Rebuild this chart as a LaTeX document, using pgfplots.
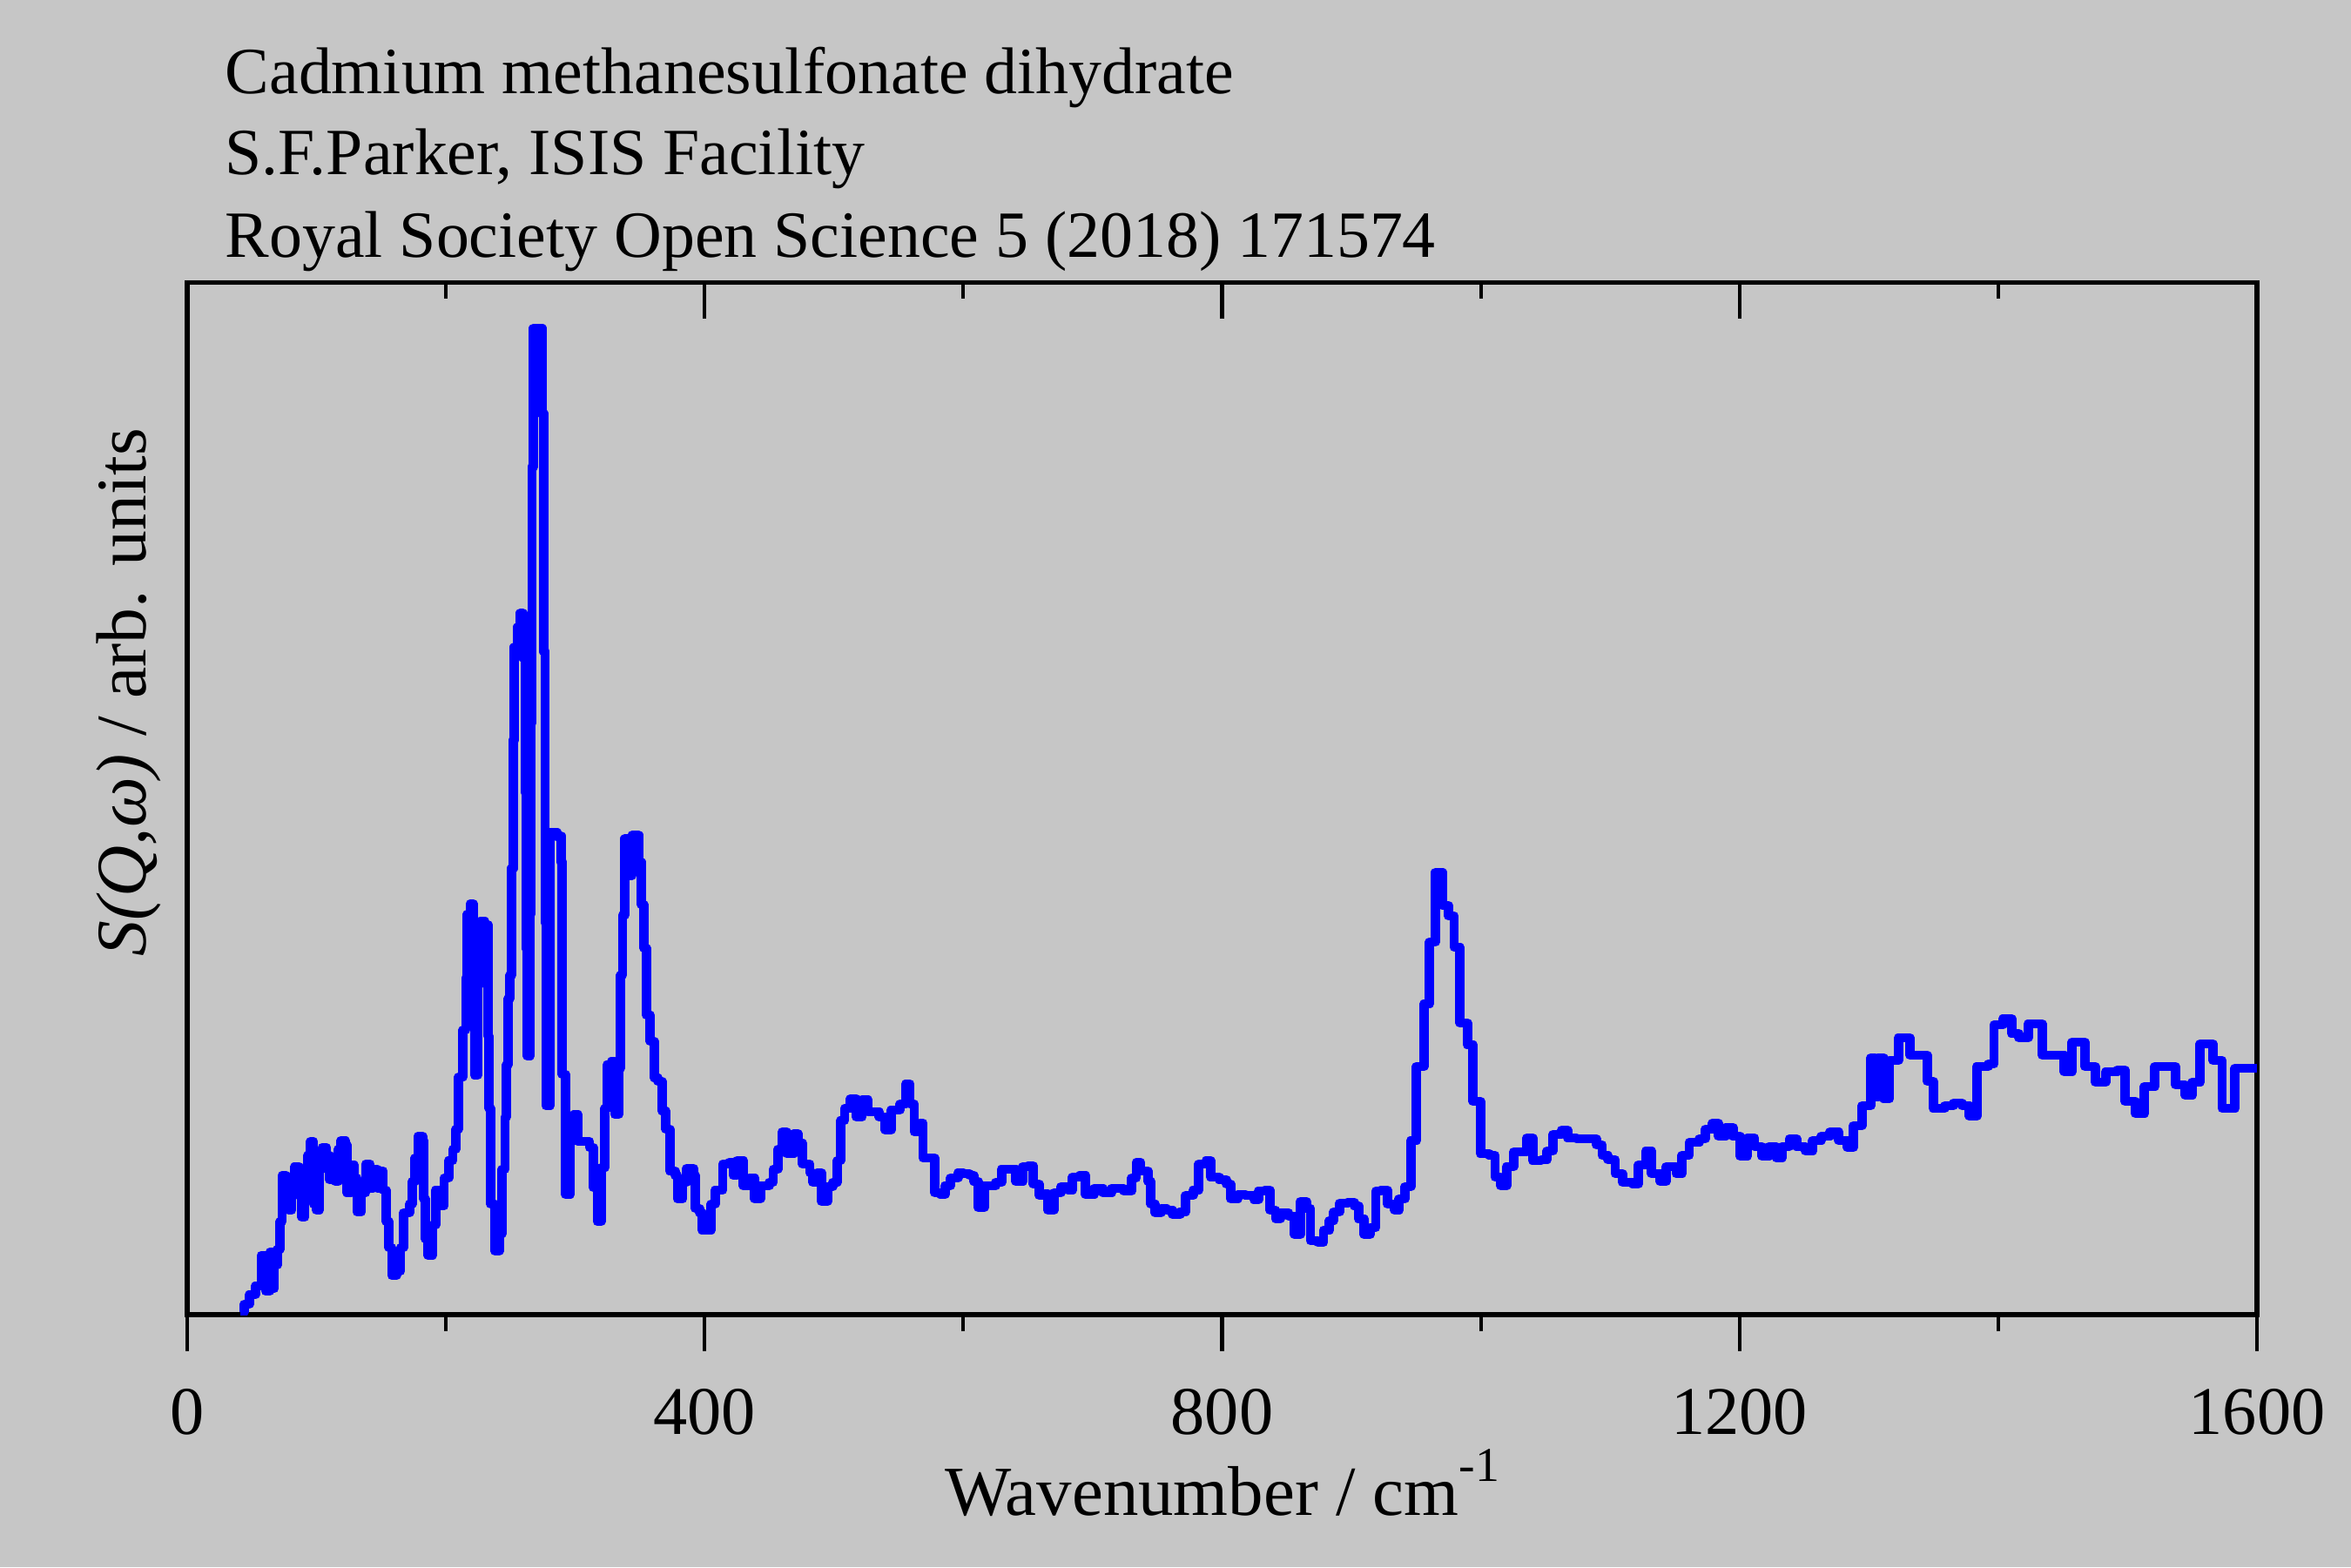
\documentclass[border=0pt]{standalone}
\usepackage{fontspec}
\setmainfont{Liberation Serif}
\usepackage{pgfplots}
\usepackage{pgfplotstable}
\pgfplotsset{compat=1.18}
\definecolor{bg}{RGB}{198,198,198}
\definecolor{specblue}{RGB}{0,0,255}
\pgfplotstableread{
x y
41 3
44 12
48 23
52.7 33
57.2 68
60.6 27
64 72
66.2 30
67.3 57
69.6 75
71.8 107
73.4 160
76.3 158
78.5 120
80.8 137
83 170
86.4 160
88.6 112
90.9 160
93.1 183
95.4 199
97.6 127
99.9 120
102.1 167
104.3 192
107.7 183
110 155
112.2 180
114.4 153
116.7 190
118.9 200
122.3 195
123.4 140
126.8 172
129 157
131.3 118
134.6 140
138 173
141.4 145
143.6 167
147 145
149.2 165
151.5 143
153.7 107
156 77
158.2 45
161.6 50
164.9 77
167.2 117
171.7 127
173.9 153
176.2 180
178.4 205
181.8 200
182.9 133
184 87
186.3 68
189.6 103
191.9 143
195.2 125
198.6 157
202 177
205.3 190
207.6 213
209.8 273
213.2 327
215.4 387
216.5 460
218.8 472
221 380
222.2 275
224.4 380
226.7 452
230 448
232.3 320
233.4 237
234.5 127
237.9 73
241.2 93
243.5 167
245.7 227
246.8 287
248 363
249.5 390
251 513
252 660
253 767
255.5 790
257.5 806
259.5 755
261.5 600
262.3 420
263 297
265 460
265.7 680
266.5 974
267.5 1133
274.5 1035
275.8 762
276.6 450
277.3 240
280.5 554
286 550
289 520
290 276
292.5 138
296 222
299 230
302 199
311 192
314 146
317 107
320 169
323 237
324.5 287
328 291
330.5 230
333.5 283
335 390
336.5 459
338.5 547
341.5 505
344 551
348 551
349 520
351 471
353 421
355 344
358 314
361 272
364 268
367 234
370 213
373 165
377 160
379 133
383 152
386 168
391.5 160
392.7 122
396 117
398 97
402 97
405 127
408 143
414 173
419 175
422 160
425 177
430 148
435 157
438.7 133
443 148
450 152
453 167
456.6 190
460 210
463.4 185
469 208
472 197
475.7 173
481.3 163
483.6 152
487 163
490.3 130
494.8 147
499 152
502.6 177
505 223
508.2 237
512.7 248
517.2 227
521.7 247
526.2 233
535 227
539.7 212
544 235
551 242
555.4 265
558.7 242
562 210
566.6 220
568.8 180
575 180
577.8 140
582.3 138
585.7 148
590 157
595.8 163
600 162
604.7 160
608 153
611.5 123
616 148
625 152
629.4 167
636 167
640.6 153
646 170
650 171
654 150
658.6 137
663 139
665.3 120
670 140
675.4 147
681 143
684.4 158
690 160
694.5 138
701.2 145
708 140
714.7 145
721 145
724 142
730 157
733.7 175
737 165
742.7 153
745 127
748.3 117
752.8 122
757 120
761.8 115
767.4 118
771.8 137
777.5 143
782 173
787.6 177
791 158
797.7 155
803.3 150
806.6 133
812.2 138
818 137
824.6 132
828 142
833 143
837 120
841.4 110
844.8 117
851.5 113
856 92
860.5 130
865 122
868.3 85
874 83
878.4 97
883 108
886.3 118
890.8 128
897 129
902 125
905.4 110
909.9 92
914.4 100
918.8 142
923 143
927.8 127
933.4 120
936.8 133
941.3 147
945.8 200
950.3 285
956 357
960.3 428
964.8 508
970.4 470
975 458
979.4 422
983.9 335
989.5 310
994 245
999.6 185
1006.4 183
1011 158
1015.3 148
1019.8 170
1025.4 187
1030 187
1035.5 203
1040 177
1046.7 178
1051.2 188
1055.7 207
1062.4 212
1067 203
1074 202
1089.3 195
1093.8 183
1098.3 178
1103.9 162
1109.5 152
1117.4 150
1121.8 172
1127.5 188
1132 162
1138.7 153
1143.2 170
1151 162
1155.5 183
1161.1 198
1169 202
1173.5 213
1179.1 220
1183.6 205
1189.2 215
1194.8 205
1200.4 182
1206 203
1211.6 193
1217.2 182
1222.8 193
1228.4 180
1232.9 193
1238.5 202
1244.1 193
1250.9 188
1256.5 200
1263.2 205
1270 210
1276.7 200
1283.4 192
1287.9 217
1294.6 240
1301.4 295
1304.7 250
1307 295
1311.4 248
1315.9 292
1322.7 318
1331.7 298
1340 298
1345.1 268
1349.6 237
1358.6 240
1365.3 243
1372 240
1377.7 228
1383.3 285
1392.3 288
1396.7 333
1403.5 340
1410.2 323
1415.8 318
1423 334
1434 298
1444 298
1451 279
1457 313
1467 285
1475 267
1483 279
1492 281
1498 245
1506 231
1513 262
1521 285
1537 264
1544.5 252
1550 267
1556 311
1566 292
1573 237
1583 283
1600 283
}\spectrum
\begin{document}
\fontsize{18.8pt}{22.6pt}\selectfont
\begin{tikzpicture}
\fill[bg] (0,0) rectangle (648pt,432pt);
\useasboundingbox (0,0) rectangle (648pt,432pt);
\begin{axis}[
  at={(51.6pt,69.6pt)}, anchor=south west,
  scale only axis, width=570.5pt, height=284.6pt,
  xmin=0, xmax=1600, ymin=0, ymax=1186,
  xtick={0,400,800,1200,1600},
  minor xtick={200,600,1000,1400},
  xtick pos=left, tick align=outside, ytick=\empty,
  major tick length=10pt, minor tick length=4.6pt,
  tick style={black, line width=1pt},
  axis line style={black, line width=1.25pt},
  /pgf/number format/assume math mode=true,
  /pgf/number format/1000 sep={},
  scaled x ticks=false,
  xticklabel style={anchor=base, yshift=-22.9pt},
  xlabel={\fontsize{19.4pt}{23pt}\selectfont Wavenumber / cm\raisebox{9.3pt}{\fontsize{13.4pt}{13.4pt}\selectfont -1}},
  ylabel={\fontsize{19.6pt}{23pt}\selectfont\textit{S(Q,ω)} / arb. units},
  every axis x label/.style={at={(axis description cs:0.5,-0.194)}, anchor=base},
  every axis y label/.style={at={(axis description cs:-0.0198,0.603)}, rotate=90, anchor=base},
]
\addplot[const plot, color=specblue, line width=2.6pt, line join=round] table[x=x, y=y] {\spectrum};
\end{axis}
\begin{axis}[
  at={(51.6pt,69.6pt)}, anchor=south west,
  scale only axis, width=570.5pt, height=284.6pt,
  xmin=0, xmax=1600, ymin=0, ymax=1186,
  xtick={0,400,800,1200,1600},
  minor xtick={200,600,1000,1400},
  xtick pos=right, tick align=inside, ytick=\empty,
  xticklabels={},
  major tick length=10pt, minor tick length=4.6pt,
  tick style={black, line width=1pt},
  axis line style={draw=none},
]
\end{axis}
\fontsize{18.2pt}{22pt}\selectfont
\node[anchor=base west, inner sep=0pt] at (61.9pt,406.3pt) {Cadmium methanesulfonate dihydrate};
\node[anchor=base west, inner sep=0pt] at (61.9pt,383.8pt) {S.F.Parker, ISIS Facility};
\node[anchor=base west, inner sep=0pt] at (61.9pt,361.0pt) {Royal Society Open Science 5 (2018) 171574};
\end{tikzpicture}
\end{document}
